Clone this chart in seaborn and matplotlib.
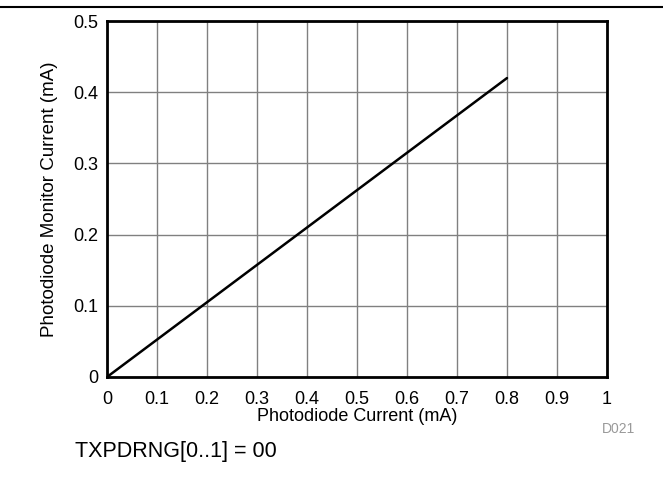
import matplotlib
matplotlib.use("Agg")
import matplotlib.pyplot as plt
import seaborn as sns
import pandas as pd
from matplotlib.lines import Line2D

# Data
pd_current = [0.0, 0.8]          # Photodiode Current (mA)
monitor_current = [0.0, 0.42]    # Photodiode Monitor Current (mA)
x_ticks = [0, 0.1, 0.2, 0.3, 0.4, 0.5, 0.6, 0.7, 0.8, 0.9, 1]
x_labels = ["0", "0.1", "0.2", "0.3", "0.4", "0.5", "0.6", "0.7", "0.8", "0.9", "1"]
y_ticks = [0, 0.1, 0.2, 0.3, 0.4, 0.5]
y_labels = ["0", "0.1", "0.2", "0.3", "0.4", "0.5"]

df = pd.DataFrame({"x": pd_current, "y": monitor_current})

sns.set_theme(style="white")
plt.rcParams['font.family'] = ['Liberation Sans', 'DejaVu Sans']

fig = plt.figure(figsize=(6.63, 4.8), dpi=100)
ax = fig.add_axes([0.1614, 0.2146, 0.7541, 0.7414])

sns.lineplot(data=df, x="x", y="y", ax=ax, color="black", linewidth=1.8)

ax.set_xlim(0, 1)
ax.set_ylim(0, 0.5)
ax.set_xticks(x_ticks)
ax.set_xticklabels(x_labels)
ax.set_yticks(y_ticks)
ax.set_yticklabels(y_labels)
ax.tick_params(axis="both", labelsize=13, colors="black", length=0)
ax.tick_params(axis="x", pad=10)
ax.tick_params(axis="y", pad=6)
ax.grid(True, color="#808080", linewidth=1.0)
for s in ax.spines.values():
    s.set_color("black")
    s.set_linewidth(2)

ax.set_xlabel("Photodiode Current (mA)", fontsize=13, color="black", labelpad=0)
ax.set_ylabel("Photodiode Monitor Current (mA)", fontsize=13.5, color="black", labelpad=11)

# top rule across the figure
fig.add_artist(Line2D([0, 1], [1 - 7 / 480, 1 - 7 / 480], color="black", linewidth=1.5,
                      transform=fig.transFigure))

fig.text(635 / 663, 1 - 429 / 480, "D021", fontsize=10, color="#999999", ha="right", va="center")
fig.text(75 / 663, 1 - 451 / 480, "TXPDRNG[0..1] = 00", fontsize=15.5, color="black",
         ha="left", va="center")

fig.savefig("out.png", dpi=100)
